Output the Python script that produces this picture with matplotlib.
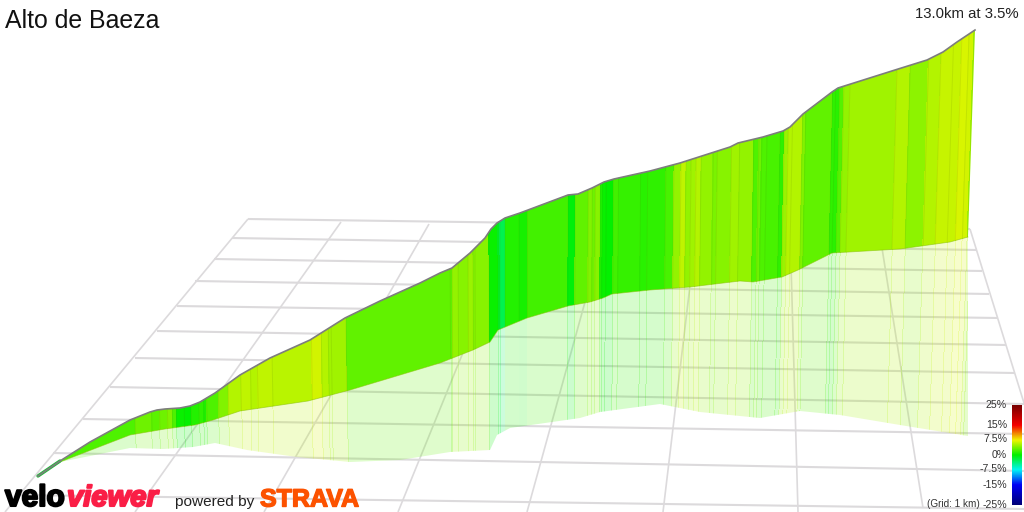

import matplotlib
matplotlib.use("Agg")  # headless
import matplotlib.patheffects as pe
import matplotlib.pyplot as plt
import numpy as np
from matplotlib.collections import LineCollection
from matplotlib.colors import LinearSegmentedColormap, Normalize
from matplotlib.patches import Polygon

TITLE = "Alto de Baeza"
SUMMARY = "13.0km at 3.5%"
GRID_NOTE = "(Grid: 1 km)"

# Top edge of the wall (pixels).
top_x = [38, 60, 90, 130, 150, 157, 165, 180, 190, 200, 215, 240, 270, 310, 345, 380, 420, 440, 452,
         470, 485, 491, 497, 505, 520, 568, 578, 592, 604, 614, 650, 680, 705, 730, 738, 763, 783, 790, 803,
         832, 838, 895, 927, 943, 957, 975]
top_y = [476, 461, 442, 420, 412, 410, 409, 408, 406, 402, 393, 375, 358, 340, 318, 301, 283, 273, 268,
         253, 238, 229, 223, 218, 213, 195, 194, 188, 182, 179, 171, 163, 155, 147, 143, 137, 131, 127, 114,
         92, 88, 70, 60, 52, 42, 30]

# Foot of the wall.
base_x = [38, 60, 130, 165, 195, 213, 240, 308, 350, 440, 473, 490, 498, 527, 568, 590, 603,
          612, 650, 690, 740, 753, 782, 798, 832, 900, 950, 968]
base_y = [476, 462, 435, 429, 425, 420, 411, 401, 390, 363, 350, 342, 330, 318, 306, 302, 298,
          294, 290, 287, 281, 282, 277, 270, 253, 249, 242, 237]

# Lower edge of the reflection on the ground.
shadow_x = [60, 130, 163, 193, 215, 247, 297, 350, 400, 450, 490, 497, 510, 580, 600, 660, 700,
            760, 800, 840, 900, 968]
shadow_y = [462, 448, 449, 447, 443, 450, 457, 462, 460, 452, 450, 435, 428, 418, 412, 404, 412,
            418, 411, 415, 425, 436]

# Gradient bands: edges (one more than grades) and the grade in % of each band.
band_edges = [38, 130, 147, 155, 163, 168, 172, 180, 187, 195, 200, 203, 215, 225, 238, 248, 255,
              270, 310, 320, 327, 330, 345, 450, 452, 458, 468, 473, 475, 489, 498, 500, 505, 519,
              527, 568, 575, 588, 592, 595, 600, 602, 606, 613, 618, 640, 647, 665, 673, 680, 685,
              690, 695, 700, 712, 716, 730, 738, 752, 757, 760, 765, 778, 782, 786, 790, 800, 803,
              829, 832, 836, 840, 846, 892, 905, 923, 935, 947, 955, 962, 967, 970, 976]
band_grades = [2.5, 3.5, 2.8, 3.5, 4.0, 2.5, 0.3, 0.0, 1.0, 1.5, 0.8, 2.5, 4.0, 5.5, 6.0, 5.5,
               6.0, 5.8, 6.5, 5.5, 5.0, 5.0, 3.0, 3.0, 4.5, 4.2, 4.8, 4.0, 4.2, 0.2, -1.0, -2.5,
               1.0, 0.6, 2.0, -0.3, 3.0, 4.0, 3.5, 4.2, 0.8, 0.2, 0.1, 2.0, 1.6, 1.2, 1.4, 2.2,
               4.5, 6.0, 4.5, 5.0, 5.5, 4.5, 3.8, 4.2, 5.0, 4.5, 2.5, 3.5, 2.5, 2.2, 1.5, 4.7,
               5.5, 5.5, 4.0, 3.0, 1.5, 1.2, 2.7, 4.6, 5.0, 5.6, 4.3, 5.6, 6.2, 6.2, 6.7, 6.5,
               5.0, 4.0]

# Ground grid: cross lines (left end -> right end).
cross_left_x = [248, 232, 214, 195, 177, 157, 135, 110, 83, 53, 20]
cross_left_y = [219, 238, 259, 281, 306, 331, 358, 387, 419, 453, 495]
cross_right_x = [970, 977, 982, 989, 998, 1006, 1014, 1024, 1024, 1024, 1024]
cross_right_y = [229, 250, 271, 294, 318, 345, 373, 404, 434, 471, 509]
# Ground grid: lines running front to back.
long_back_x = [248, 341, 429, 515, 606, 697, 790, 879, 970]
long_back_y = [219, 222, 224, 225, 226, 227, 228, 229, 229]
long_front_x = [5, 135, 264, 398, 527, 663, 798, 923, 1024]
long_front_y = [512, 512, 512, 512, 512, 512, 512, 508, 403]

# Colour scale.
scale_stops = [-25, -15, -7.5, 0, 7.5, 15, 25]
scale_colors = ["#000078", "#0000f5", "#00f5f5", "#00f000", "#f0f500", "#f50000", "#780000"]
scale_ticks = [25, 15, 7.5, 0, -7.5, -15, -25]
scale_labels = ["25%", "15%", "7.5%", "0%", "-7.5%", "-15%", "-25%"]

plt.rcParams["font.family"] = ["Liberation Sans", "DejaVu Sans"]

GRID_COL = "#dcdadc"
norm = Normalize(-25, 25)
cmap = LinearSegmentedColormap.from_list(
    "grade", [((s + 25) / 50, c) for s, c in zip(scale_stops, scale_colors)])


def leaning_edges():
    # wall verticals lean slightly towards a point far below the picture
    edges = np.array(band_edges, dtype=float)
    lean = (edges - 527) / 13300
    return edges + lean * 250, edges - lean * 262


def band_mesh(ax, clip, alpha):
    x_up, x_down = leaning_edges()
    x = np.vstack([x_up, x_down])
    y = np.array([[0.0] * len(x_up), [512.0] * len(x_up)])
    mesh = ax.pcolormesh(x, y, np.array([band_grades]), cmap=cmap, norm=norm, alpha=alpha,
                         shading="flat", edgecolors="none", antialiased=False, zorder=3)
    mesh.set_clip_path(clip)


def main():
    fig = plt.figure(figsize=(10.24, 5.12), dpi=100)
    ax = fig.add_axes([0, 0, 1, 1])
    ax.set_xlim(0, 1024)
    ax.set_ylim(512, 0)
    ax.axis("off")

    for x0, y0, x1, y1 in zip(cross_left_x, cross_left_y, cross_right_x, cross_right_y):
        ax.plot([x0, x1], [y0, y1], color=GRID_COL, lw=1.5, zorder=1, solid_capstyle="butt")
    for x0, y0, x1, y1 in zip(long_back_x, long_back_y, long_front_x, long_front_y):
        ax.plot([x0, x1], [y0, y1], color=GRID_COL, lw=1.2, zorder=1, solid_capstyle="butt")

    # reflection on the ground, then the wall over it
    shadow_pts = list(zip(base_x, base_y)) + list(zip(shadow_x, shadow_y))[::-1]
    shadow = Polygon(shadow_pts, closed=True, transform=ax.transData, fc="none", ec="none")
    ax.add_patch(shadow)
    band_mesh(ax, shadow, 0.2)

    wall_pts = list(zip(top_x, top_y)) + list(zip(base_x, base_y))[::-1]
    wall = Polygon(wall_pts, closed=True, transform=ax.transData, fc="none", ec="none")
    ax.add_patch(wall)
    band_mesh(ax, wall, None)

    x_up, x_down = leaning_edges()
    seams = LineCollection([[(a, 0), (b, 512)] for a, b in zip(x_up, x_down)],
                           colors=[(0.35, 0.45, 0.0, 0.12)], linewidths=0.7, zorder=4)
    ax.add_collection(seams)
    seams.set_clip_path(wall)

    ax.plot(base_x, base_y, color="#86c000", lw=0.6, alpha=0.6, zorder=4)
    ax.plot(top_x[:2], top_y[:2], color="#22b83a", lw=2.4, zorder=4, solid_capstyle="round")
    ax.plot(top_x, top_y, color="#7d7d7d", lw=1.2, zorder=5, solid_joinstyle="round")

    ax.text(5, 21, TITLE, fontsize=17.9, color="#111111", va="center", ha="left")
    ax.text(1019, 14, SUMMARY, fontsize=10.7, color="#222222", va="center", ha="right")

    # colour scale, drawn in its own axes placed over the picture
    cax = fig.add_axes([1012 / 1024, 1 - 505 / 512, 10 / 1024, 100 / 512])
    cax.imshow(np.linspace(25, -25, 200)[:, None], cmap=cmap, norm=norm, aspect="auto",
               extent=[0, 1, -25, 25])
    cax.axis("off")
    for tick, label in zip(scale_ticks, scale_labels):
        ax.text(1007, 454.5 - tick * 2, label, fontsize=7.6, color="#333333", ha="right",
                va="center", zorder=6)
    ax.text(980, 504, GRID_NOTE, fontsize=7.2, color="#333333", ha="right", va="center", zorder=6)

    # footer logos
    ax.text(5, 506, "velo", fontsize=21.5, fontweight="bold", color="black", va="baseline",
            ha="left", path_effects=[pe.withStroke(linewidth=1.5, foreground="black")], zorder=6)
    ax.text(67, 506, "viewer", fontsize=21, fontweight="bold", style="italic", color="#fa1e46",
            va="baseline", ha="left",
            path_effects=[pe.withStroke(linewidth=1.5, foreground="#fa1e46")], zorder=6)
    ax.text(175, 502, "powered by", fontsize=11.1, color="#222222", va="center", ha="left", zorder=6)
    ax.text(260, 506.5, "STRAVA", fontsize=18, fontweight="bold", color="#fc5200", va="baseline",
            ha="left", path_effects=[pe.withStroke(linewidth=1.0, foreground="#fc5200")], zorder=6)

    fig.savefig("out.png", dpi=100)
    plt.close(fig)


if __name__ == "__main__":
    main()
